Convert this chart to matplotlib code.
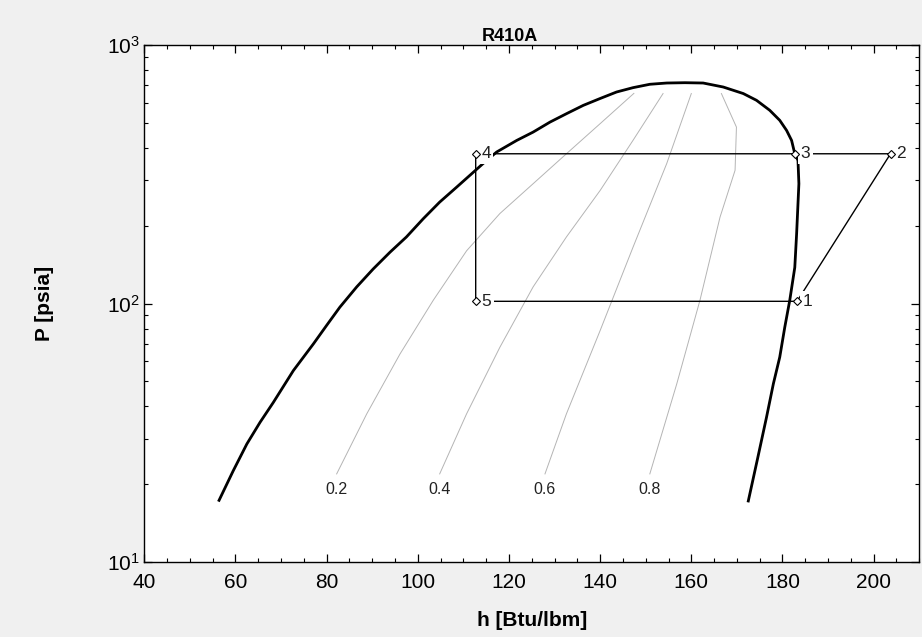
import numpy as np
import matplotlib.pyplot as plt
from matplotlib.ticker import MultipleLocator

plt.rcParams['font.family'] = ['Liberation Sans', 'DejaVu Sans']

# saturation dome (liquid side -> critical region -> vapor side)
dome_h = np.array([56.4, 59.5, 62.5, 65.4, 68.3, 72.7, 77.1, 80.0, 82.9, 86.6, 90.2, 93.9, 97.5,
                   101.2, 104.8, 108.5, 114.3, 117.3, 121.7, 125.3, 129.0, 132.6, 136.3, 140.0,
                   143.6, 147.2, 150.9, 154.6, 158.6, 162.6, 167.0, 171.4, 174.3, 177.2, 179.4,
                   180.9, 182.0, 182.7, 183.4, 183.6, 183.1, 182.7, 181.6, 180.5, 179.4, 178.0,
                   176.5, 174.6, 172.5])
dome_P = np.array([17.3, 22.5, 28.6, 34.7, 41.4, 55.0, 69.8, 82.3, 96.8, 116, 136, 158, 181,
                   213, 247, 282, 348, 386, 428, 461, 504, 543, 585, 622,
                   659, 685, 706, 714, 716, 714, 689, 650, 612, 560, 512,
                   468, 428, 380, 358, 291, 186, 138, 103, 80.9, 62, 48.9,
                   36.3, 25.4, 17.2])

# constant quality lines
qualities = ['0.2', '0.4', '0.6', '0.8']
q02_h = [82.2, 88.8, 96.1, 103.4, 110.7, 118.0, 125.3, 132.6, 140.0, 147.4]
q02_P = [21.9, 37.4, 63.8, 103, 160, 223, 291, 380, 497, 651]
q04_h = [104.8, 110.7, 118.0, 125.3, 132.6, 140.0, 147.2, 153.8]
q04_P = [21.9, 37.4, 67.7, 116, 181, 274, 428, 650]
q06_h = [127.9, 132.6, 140.0, 147.2, 154.6, 160.0]
q06_P = [21.9, 37.4, 78.6, 165, 348, 650]
q08_h = [150.9, 156.8, 161.9, 166.3, 169.6, 169.9, 166.6]
q08_P = [21.9, 48.8, 103, 216, 328, 482, 650]

# cycle state points 1..5
state_labels = ['1', '2', '3', '4', '5']
state_h = [183.2, 203.7, 182.7, 112.7, 112.7]
state_P = [102, 380, 380, 380, 102]

fig = plt.figure(figsize=(9.22, 6.37), dpi=100, facecolor='#f0f0f0')
ax = fig.add_axes([0.1565, 0.118, 0.8405, 0.811])
ax.set_facecolor('white')

ax.plot(dome_h, dome_P, color='black', lw=2.0, zorder=3)

for lab, hq, pq in zip(qualities, [q02_h, q04_h, q06_h, q08_h], [q02_P, q04_P, q06_P, q08_P]):
    ax.plot(hq, pq, color='#b4b4b4', lw=0.7, zorder=2)
    ax.annotate(lab, (hq[0], pq[0]), xytext=(0, -6), textcoords='offset points',
                ha='center', va='top', fontsize=11.5, color='#222222')

# cycle: 1-2-3-4-5-1
order = [0, 1, 2, 3, 4, 0]
ax.plot([state_h[i] for i in order], [state_P[i] for i in order],
        color='black', lw=1.0, zorder=4)
ax.plot(state_h, state_P, ls='none', marker='D', ms=4.5, mfc='white', mec='black',
        mew=0.8, zorder=6)
for lab, hs, ps in zip(state_labels, state_h, state_P):
    ax.annotate(lab, (hs, ps), xytext=(4, 0), textcoords='offset points',
                ha='left', va='center', fontsize=12.5, color='#222222', zorder=5,
                bbox=dict(boxstyle='square,pad=0.15', fc='white', ec='none'))

ax.set_yscale('log')
ax.set_xlim(40, 210)
ax.set_ylim(10, 1000)
ax.xaxis.set_major_locator(MultipleLocator(20))
ax.xaxis.set_minor_locator(MultipleLocator(5))
ax.tick_params(which='both', direction='in', top=True, right=True, labelsize=15)
ax.tick_params(which='major', length=6, width=0.9)
ax.tick_params(which='minor', length=3, width=0.8)
ax.tick_params(axis='x', pad=8)
for sp in ax.spines.values():
    sp.set_linewidth(1.0)

ax.set_xlabel('h [Btu/lbm]', fontsize=15, fontweight='bold', labelpad=14)
ax.set_ylabel('P [psia]', fontsize=15, fontweight='bold', labelpad=38)
ax.set_title('R410A', fontsize=13, fontweight='bold', x=0.472, pad=3)

fig.savefig('out.png', dpi=100, facecolor=fig.get_facecolor())
